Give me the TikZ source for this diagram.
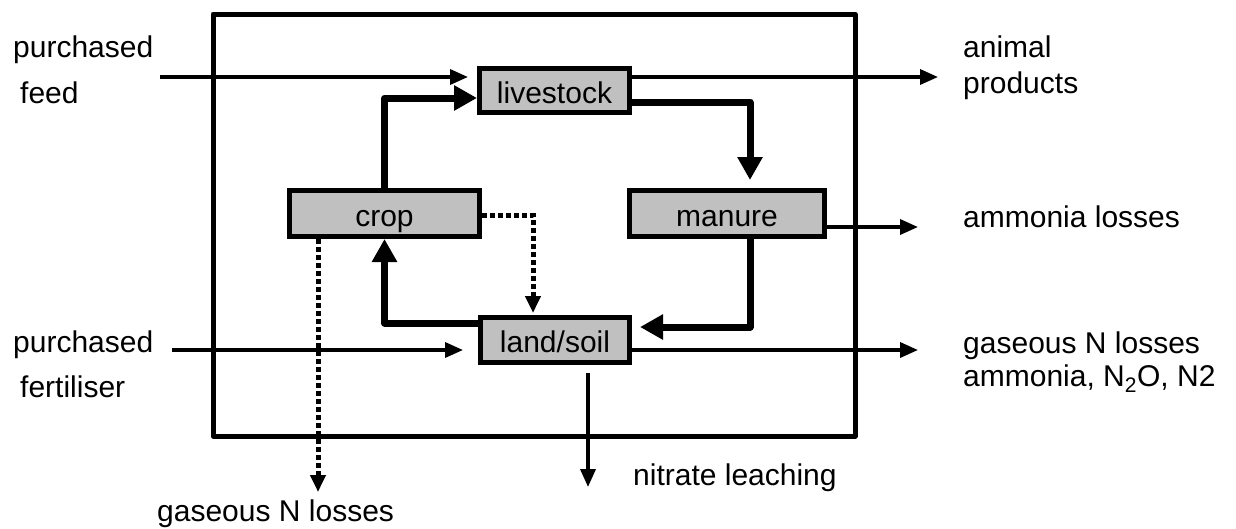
\documentclass[tikz,border=0pt]{standalone}
\usepackage{fontspec}
\setmainfont{Liberation Sans}
\usetikzlibrary{arrows.meta,calc}
\definecolor{boxgray}{RGB}{192,192,192}
\begin{document}
\begin{tikzpicture}[x=1pt,y=-1pt,
  fnt/.style={font=\fontsize{30}{36}\selectfont},
  procbox/.style={draw, line width=5pt, fill=boxgray, inner sep=0pt, text height=25pt, text depth=0pt, fnt},
  lbl/.style={anchor=base west, inner sep=0pt, fnt},
  thinarr/.style={line width=3.5pt, -{Triangle[length=18pt,width=15pt]}},
  thickarr/.style={line width=7pt, line join=round, line cap=round, -{Triangle[length=23pt,width=24pt]}},
  dotarr/.style={line width=5pt, dash pattern=on 5pt off 3pt, -{Triangle[length=17pt,width=15pt]}}
]
\useasboundingbox (0,0) rectangle (1236,528);
% frame
\draw[line width=5pt, line join=round] (213,14) rectangle (855,436);

% process boxes
\node[procbox, minimum width=150pt, minimum height=44pt] (livestock) at (554.5,90.5) {livestock};
\node[procbox, minimum width=190pt, minimum height=46pt] (crop) at (384.5,213.5) {crop};
\node[procbox, minimum width=195pt, minimum height=46pt] (manure) at (727,213.5) {manure};
\node[procbox, minimum width=149pt, minimum height=45pt] (landsoil) at (555,340) {land/soil};

% labels
\node[lbl] (pfeedA) at (13,57) {purchased};
\node[lbl] (pfeedB) at (20,103) {feed};
\node[lbl] (apA) at (963,57) {animal};
\node[lbl] (apB) at (963,93) {products};
\node[lbl] (amm) at (963,227) {ammonia losses};
\node[lbl] (gasA) at (963,353) {gaseous N losses};
\node[lbl] (gasB) at (963,386) {ammonia, N\textsubscript{2}O, N2};
\node[lbl] (pfertA) at (13,352) {purchased};
\node[lbl] (pfertB) at (20,397) {fertiliser};
\node[lbl] (nitr) at (633,485) {nitrate leaching};
\node[lbl] (gasC) at (157,521) {gaseous N losses};

% free ends
\coordinate (pfeed) at (160,77);
\coordinate (apend) at (938,77);
\coordinate (ammend) at (918,227);
\coordinate (pfert) at (172,350);
\coordinate (gasend) at (918,350);
\coordinate (nitend) at (588,487);
\coordinate (gascend) at (318,492);

% thin arrows
\draw[thinarr, shorten >=9pt] (pfeed) -- (pfeed -| livestock.west);
\draw[thinarr] (apend -| livestock.east) -- (apend);
\draw[thinarr] (ammend -| manure.east) -- (ammend);
\draw[thinarr, shorten >=15pt] (pfert) -- (pfert -| landsoil.west);
\draw[thinarr] (gasend -| landsoil.east) -- (gasend);
\draw[thinarr, shorten <=8pt] (nitend |- landsoil.south) -- (nitend);

% thick cycle arrows
\draw[thickarr] (crop.north) |- ($(livestock.west)+(0,7.5)$);
\draw[thickarr, shorten >=8pt] ($(livestock.east)+(0,11.5)$) -| ($(manure.north)+(23,0)$);
\draw[thickarr, shorten >=8pt] ($(manure.south)+(23,0)$) |- ($(landsoil.east)+(0,-13)$);
\draw[thickarr] ($(landsoil.west)+(0,-17)$) -| (crop.south);

% dotted arrows
\draw[dotarr, shorten >=2pt] ($(crop.east)+(0,1.5)$) -| ($(landsoil.north)+(-22,0)$);
\draw[dotarr] (gascend |- crop.south) -- (gascend);
\end{tikzpicture}
\end{document}
